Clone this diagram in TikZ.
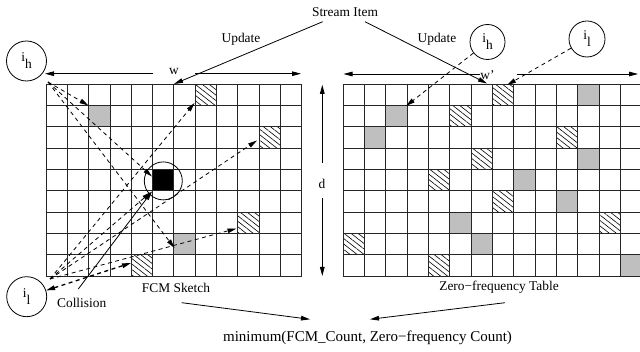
\documentclass[tikz,border=0pt]{standalone}
\usepackage{fontspec}
\setmainfont{Liberation Serif}
\usetikzlibrary{arrows.meta,patterns.meta}

\begin{document}
\begin{tikzpicture}[x=1pt,y=-1pt,
  lbl/.style={inner sep=0pt, font=\fontsize{13.4}{16}\selectfont},
  conn/.style={line width=0.8pt, -{Triangle[length=9pt,width=4.6pt]}},
  dconn/.style={conn, dash pattern=on 4pt off 3.5pt},
  item/.style={circle, draw, line width=0.8pt, inner sep=0pt, font=\fontsize{13.4}{16}\selectfont},
  gridline/.style={line width=1pt, draw=black!85},
  hatch/.style={pattern={Lines[angle=-38,distance=4.3pt,line width=0.6pt]}},
  hot/.style={fill=black!25},
]
\useasboundingbox (0,0) rectangle (640,352);

% ---------- FCM sketch (12 x 9 counters) ----------
\begin{scope}[shift={(46,84.3)},x=21.333pt,y=-21.333pt]
  \foreach \c/\r in {2/1,6/7} \fill[hot] (\c,\r) rectangle ++(1,1);
  \foreach \c/\r in {7/0,10/2,9/6,4/8} \fill[hatch] (\c,\r) rectangle ++(1,1);
  \fill[black] (5,4) rectangle ++(1,1);
  \foreach \c in {0,...,12} \draw[gridline] (\c,0) -- (\c,9);
  \foreach \r in {0,...,9} \draw[gridline] (0,\r) -- (12,\r);
\end{scope}

% ---------- zero-frequency table (14 x 9 counters) ----------
\begin{scope}[shift={(343.3,84.3)},x=21.333pt,y=-21.333pt]
  \foreach \c/\r in {11/0,2/1,1/2,11/3,8/4,10/5,5/6,6/7,13/8}
    \fill[hot] (\c,\r) rectangle ++(1,1);
  \foreach \c/\r in {7/0,5/1,10/2,6/3,4/4,7/5,12/6,0/7,4/8}
    \fill[hatch] (\c,\r) rectangle ++(1,1);
  \foreach \c in {0,...,14} \draw[gridline] (\c,0) -- (\c,9);
  \foreach \r in {0,...,9} \draw[gridline] (0,\r) -- (14,\r);
\end{scope}

% ---------- labels ----------
\node[lbl] (stream) at (345,12) {Stream Item};
\node[lbl] (upL) at (241,39) {Update};
\node[lbl] (upR) at (437,39) {Update};
\node[lbl] (w) at (174,71.5) {w};
\node[lbl] (wp) at (487.5,75) {w'};
\node[lbl] (d) at (322,184) {d};
\node[lbl] (fcm) at (176,287.5) {FCM Sketch};
\node[lbl] (zft) at (499,287) {Zero−frequency Table};
\node[lbl,font=\fontsize{15}{18}\selectfont] (minq) at (367.5,337.5) {minimum(FCM\_Count, Zero−frequency Count)};
\node[lbl] (coll) at (81.7,303) {Collision};

% ---------- items ----------
\node[item,minimum size=40pt] (ihL) at (26.5,61) {\raisebox{3.5pt}{i}\raisebox{-3.5pt}{h}};
\node[item,minimum size=40pt] (ilL) at (26.7,296.7) {\raisebox{3.5pt}{i}\raisebox{-3.5pt}{l}};
\node[item,minimum size=35pt] (ihR) at (487.5,42) {\raisebox{3.5pt}{i}\raisebox{-3.5pt}{h}};
\node[item,minimum size=36pt] (ilR) at (587,39) {\raisebox{3.5pt}{i}\raisebox{-3.5pt}{l}};

% collision counter marker
\node[circle,draw,line width=0.8pt,minimum size=38pt,inner sep=0pt] (hit) at (163.3,180.9) {};

% ---------- anchor points ----------
\coordinate (siL) at (322.7,21.7);
\coordinate (siR) at (365,21.7);
\coordinate (updL) at (174,84);
\coordinate (updR) at (487,83.5);
\coordinate (wL) at (45,73.7);   \coordinate (wLa) at (153,73.7);
\coordinate (wR) at (301,73.7);  \coordinate (wRa) at (195,73.7);
\coordinate (wpL) at (343.5,74); \coordinate (wpLa) at (480,74);
\coordinate (wpR) at (638,74);   \coordinate (wpRa) at (516.7,74);
\coordinate (dT) at (322.3,84.8); \coordinate (dTa) at (322.3,163);
\coordinate (dB) at (322.3,276);  \coordinate (dBa) at (322.3,198.5);

\coordinate (hS) at (48,82);
\coordinate (hA) at (88.5,105.5);
\coordinate (hB) at (152,176.5);
\coordinate (hC) at (174.5,248);

\coordinate (lS) at (50,279);
\coordinate (lA) at (194.5,103);
\coordinate (lB) at (257,140.5);
\coordinate (lC) at (151,192);
\coordinate (lD) at (236.5,228.5);
\coordinate (lE) at (131,263);

\coordinate (cS) at (78.3,289);
\coordinate (cT) at (152,191.5);

\coordinate (rA) at (406,106);
\coordinate (rB) at (507,85);

\coordinate (fcmA) at (181.7,302.7);
\coordinate (minA) at (310,319.3);
\coordinate (zftA) at (505,302.7);
\coordinate (minB) at (370,319.3);

% ---------- dimension arrows ----------
\draw[conn] (wLa) -- (wL);
\draw[conn] (wRa) -- (wR);
\draw[conn] (wpLa) -- (wpL);
\draw[conn] (wpRa) -- (wpR);
\draw[conn] (dTa) -- (dT);
\draw[conn] (dBa) -- (dB);

% ---------- stream updates ----------
\draw[conn] (siL) -- (updL);
\draw[conn] (siR) -- (updR);

% ---------- hashing of the high-frequency item ----------
\draw[dconn] (hS) -- (hA);
\draw[dconn] (hS) -- (hB);
\draw[dconn] (hS) -- (hC);

% ---------- hashing of the low-frequency item ----------
\draw[dconn] (lS) -- (lA);
\draw[dconn] (lS) -- (lB);
\draw[dconn] (lS) -- (lC);
\draw[dconn] (lS) -- (lD);
\draw[dconn,line width=1.3pt,{Triangle[length=9pt,width=4.6pt]}-{Triangle[length=9pt,width=4.6pt]}] (ilL) -- (lE);

% collision pointer
\draw[conn] (cS) -- (cT);

% ---------- zero-frequency table lookups ----------
\draw[dconn] (ihR) -- (rA);
\draw[dconn] (ilR) -- (rB);

% ---------- final estimate ----------
\draw[conn] (fcmA) -- (minA);
\draw[conn] (zftA) -- (minB);
\end{tikzpicture}
\end{document}
